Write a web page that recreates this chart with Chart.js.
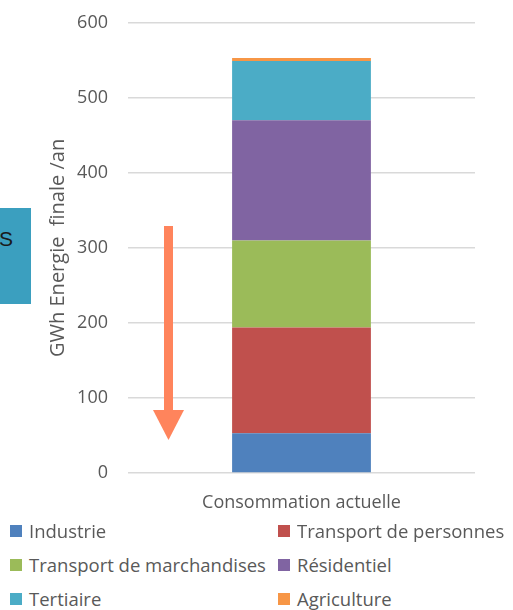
<!DOCTYPE html>
<html>
<head>
<meta charset="utf-8">
<script src="https://cdn.jsdelivr.net/npm/chart.js@4.4.0/dist/chart.umd.min.js"></script>
<style>
  body { margin: 0; background: #fff; font-family: "Open Sans", sans-serif; }
  #wrap { position: relative; width: 513px; height: 610px; overflow: hidden; }
  #chart-box { position: absolute; left: 0; top: -8px; width: 513px; height: 528px; }
  #side-box { position: absolute; left: 0; top: 208px; width: 31px; height: 96px; background: #3b9fbf; }
  #side-box span { position: absolute; left: -1px; top: 19px; font: 21px "Liberation Sans", Arial, sans-serif; color: #1a1a1a; }
  #arrow { position: absolute; left: 150px; top: 224px; }
  #legend { position: absolute; left: 10px; top: 518px; width: 503px; }
  .item { position: absolute; display: flex; align-items: center; font-size: 18.5px; color: #595959; white-space: nowrap; }
  .item i { display: inline-block; width: 12px; height: 12px; margin-right: 7px; }
</style>
</head>
<body>
<div id="wrap">
  <div id="side-box"><span>S</span></div>
  <div id="chart-box"><canvas id="chart"></canvas></div>
  <svg id="arrow" width="40" height="220">
    <rect x="14" y="2" width="9" height="186" fill="#ff845c"/>
    <polygon points="3,186 34,186 18.5,216" fill="#ff845c"/>
  </svg>
  <div id="legend"></div>
</div>
<script>
// Chart data
var categories = ['Consommation actuelle'];
var sectors = ['Industrie', 'Transport de personnes', 'Transport de marchandises', 'Résidentiel', 'Tertiaire', 'Agriculture'];
var values = [53, 141, 116, 160, 79, 4];
var colors = ['#4f81bd', '#c0504d', '#9bbb59', '#8064a2', '#4bacc6', '#f79646'];
var yTicks = [0, 100, 200, 300, 400, 500, 600];

var textColor = '#595959';

// Build one stacked dataset per sector
var datasets = sectors.map(function (name, i) {
    return {
        label: name,
        data: [values[i]],
        backgroundColor: colors[i],
        borderWidth: 0,
        barPercentage: 0.4,
        categoryPercentage: 1
    };
});

new Chart(document.getElementById('chart'), {
    type: 'bar',
    data: { labels: categories, datasets: datasets },
    options: {
        responsive: true,
        maintainAspectRatio: false,
        animation: false,
        layout: { padding: { left: 46, right: 38, top: 16, bottom: 0 } },
        plugins: { legend: { display: false }, tooltip: { enabled: false } },
        scales: {
            x: {
                stacked: true,
                grid: { display: false },
                border: { display: false },
                ticks: { color: textColor, font: { family: 'Open Sans', size: 18 }, padding: 11 },
                afterFit: function (scale) { scale.height = 47; }
            },
            y: {
                stacked: true,
                min: 0,
                max: 600,
                afterBuildTicks: function (scale) {
                    scale.ticks = yTicks.map(function (v) { return { value: v }; });
                },
                grid: { color: '#d9d9d9', lineWidth: 1.5, drawTicks: false },
                border: { display: false },
                ticks: { color: textColor, font: { family: 'Open Sans', size: 18 }, padding: 20 },
                title: {
                    display: true,
                    text: 'GWh Energie  finale /an',
                    color: textColor,
                    font: { family: 'Open Sans', size: 20 },
                    padding: { top: 0, bottom: 0 }
                },
                afterFit: function (scale) { scale.width = 82; }
            }
        }
    }
});

// HTML legend in two columns, built from the same arrays
var legend = document.getElementById('legend');
sectors.forEach(function (name, i) {
    var el = document.createElement('div');
    el.className = 'item';
    el.style.left = (i % 2 === 0 ? 0 : 268) + 'px';
    el.style.top = (Math.floor(i / 2) * 34) + 'px';
    el.innerHTML = '<i style="background:' + colors[i] + '"></i>' + name;
    legend.appendChild(el);
});
</script>
</body>
</html>
